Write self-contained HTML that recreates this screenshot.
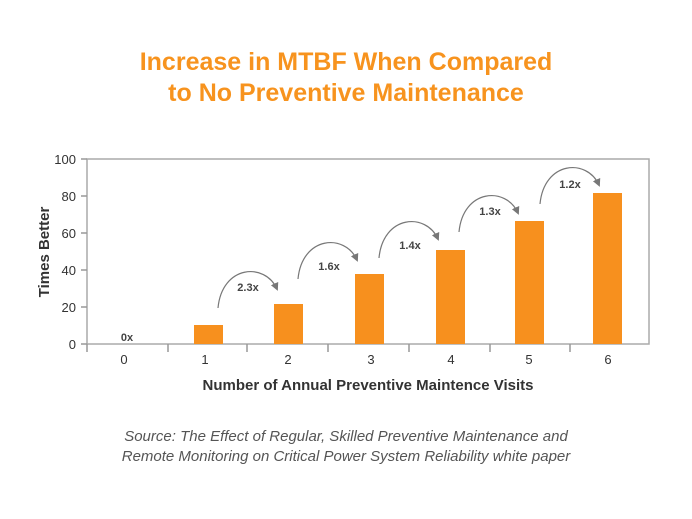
<!DOCTYPE html>
<html><head><style>
body{margin:0;background:#fff;width:692px;height:514px;overflow:hidden;font-family:"Liberation Sans",sans-serif}
</style></head><body>
<svg width="692" height="514" xmlns="http://www.w3.org/2000/svg" font-family="Liberation Sans, sans-serif">
<defs><marker id="a" markerWidth="8" markerHeight="8" refX="6" refY="4" orient="auto" markerUnits="userSpaceOnUse"><path d="M0,0 L8,4 L0,8 Z" fill="#777"/></marker></defs>
<text x="346" y="70" text-anchor="middle" font-size="25" font-weight="bold" fill="#f7931e">Increase in MTBF When Compared</text>
<text x="346" y="101" text-anchor="middle" font-size="25" font-weight="bold" fill="#f7931e">to No Preventive Maintenance</text>
<rect x="87" y="159" width="562" height="185" fill="none" stroke="#aaa" stroke-width="1.5"/>
<g stroke="#999" stroke-width="1.5">
<line x1="81" y1="159" x2="87" y2="159"/><line x1="81" y1="196" x2="87" y2="196"/><line x1="81" y1="233" x2="87" y2="233"/><line x1="81" y1="270" x2="87" y2="270"/><line x1="81" y1="307" x2="87" y2="307"/><line x1="81" y1="344" x2="87" y2="344"/>
<line x1="87" y1="344" x2="87" y2="352"/><line x1="168" y1="344" x2="168" y2="352"/><line x1="247" y1="344" x2="247" y2="352"/><line x1="328" y1="344" x2="328" y2="352"/><line x1="409" y1="344" x2="409" y2="352"/><line x1="490" y1="344" x2="490" y2="352"/><line x1="570" y1="344" x2="570" y2="352"/>
</g>
<g font-size="13" fill="#333" text-anchor="end">
<text x="76" y="164">100</text><text x="76" y="201">80</text><text x="76" y="238">60</text><text x="76" y="275">40</text><text x="76" y="312">20</text><text x="76" y="349">0</text>
</g>
<g font-size="13" fill="#333" text-anchor="middle">
<text x="124" y="364">0</text><text x="205" y="364">1</text><text x="288" y="364">2</text><text x="371" y="364">3</text><text x="451" y="364">4</text><text x="529" y="364">5</text><text x="608" y="364">6</text>
</g>
<g fill="#f7901e">
<rect x="194" y="325" width="29" height="19"/><rect x="274" y="304" width="29" height="40"/><rect x="355" y="274" width="29" height="70"/><rect x="436" y="250" width="29" height="94"/><rect x="515" y="221" width="29" height="123"/><rect x="593" y="193" width="29" height="151"/>
</g>
<g fill="none" stroke="#777" stroke-width="1.2" marker-end="url(#a)">
<path d="M218,308 C222,265 265,262 277,289"/>
<path d="M298,279 C302,236 345,233 357,260"/>
<path d="M379,258 C383,215 426,212 438,239"/>
<path d="M459,232 C463,189 506,186 518,213"/>
<path d="M540,204 C544,161 587,158 599,185"/>
</g>
<g font-size="11" font-weight="bold" fill="#444" text-anchor="middle">
<text x="127" y="341">0x</text><text x="248" y="291">2.3x</text><text x="329" y="270">1.6x</text><text x="410" y="249">1.4x</text><text x="490" y="215">1.3x</text><text x="570" y="188">1.2x</text>
</g>
<text transform="translate(49,252) rotate(-90)" text-anchor="middle" font-size="15" font-weight="bold" fill="#333">Times Better</text>
<text x="368" y="390" text-anchor="middle" font-size="15" font-weight="bold" fill="#333">Number of Annual Preventive Maintence Visits</text>
<g font-size="15" font-style="italic" fill="#555" text-anchor="middle">
<text x="346" y="441">Source: The Effect of Regular, Skilled Preventive Maintenance and</text>
<text x="346" y="461">Remote Monitoring on Critical Power System Reliability white paper</text>
</g>
</svg>
</body></html>
